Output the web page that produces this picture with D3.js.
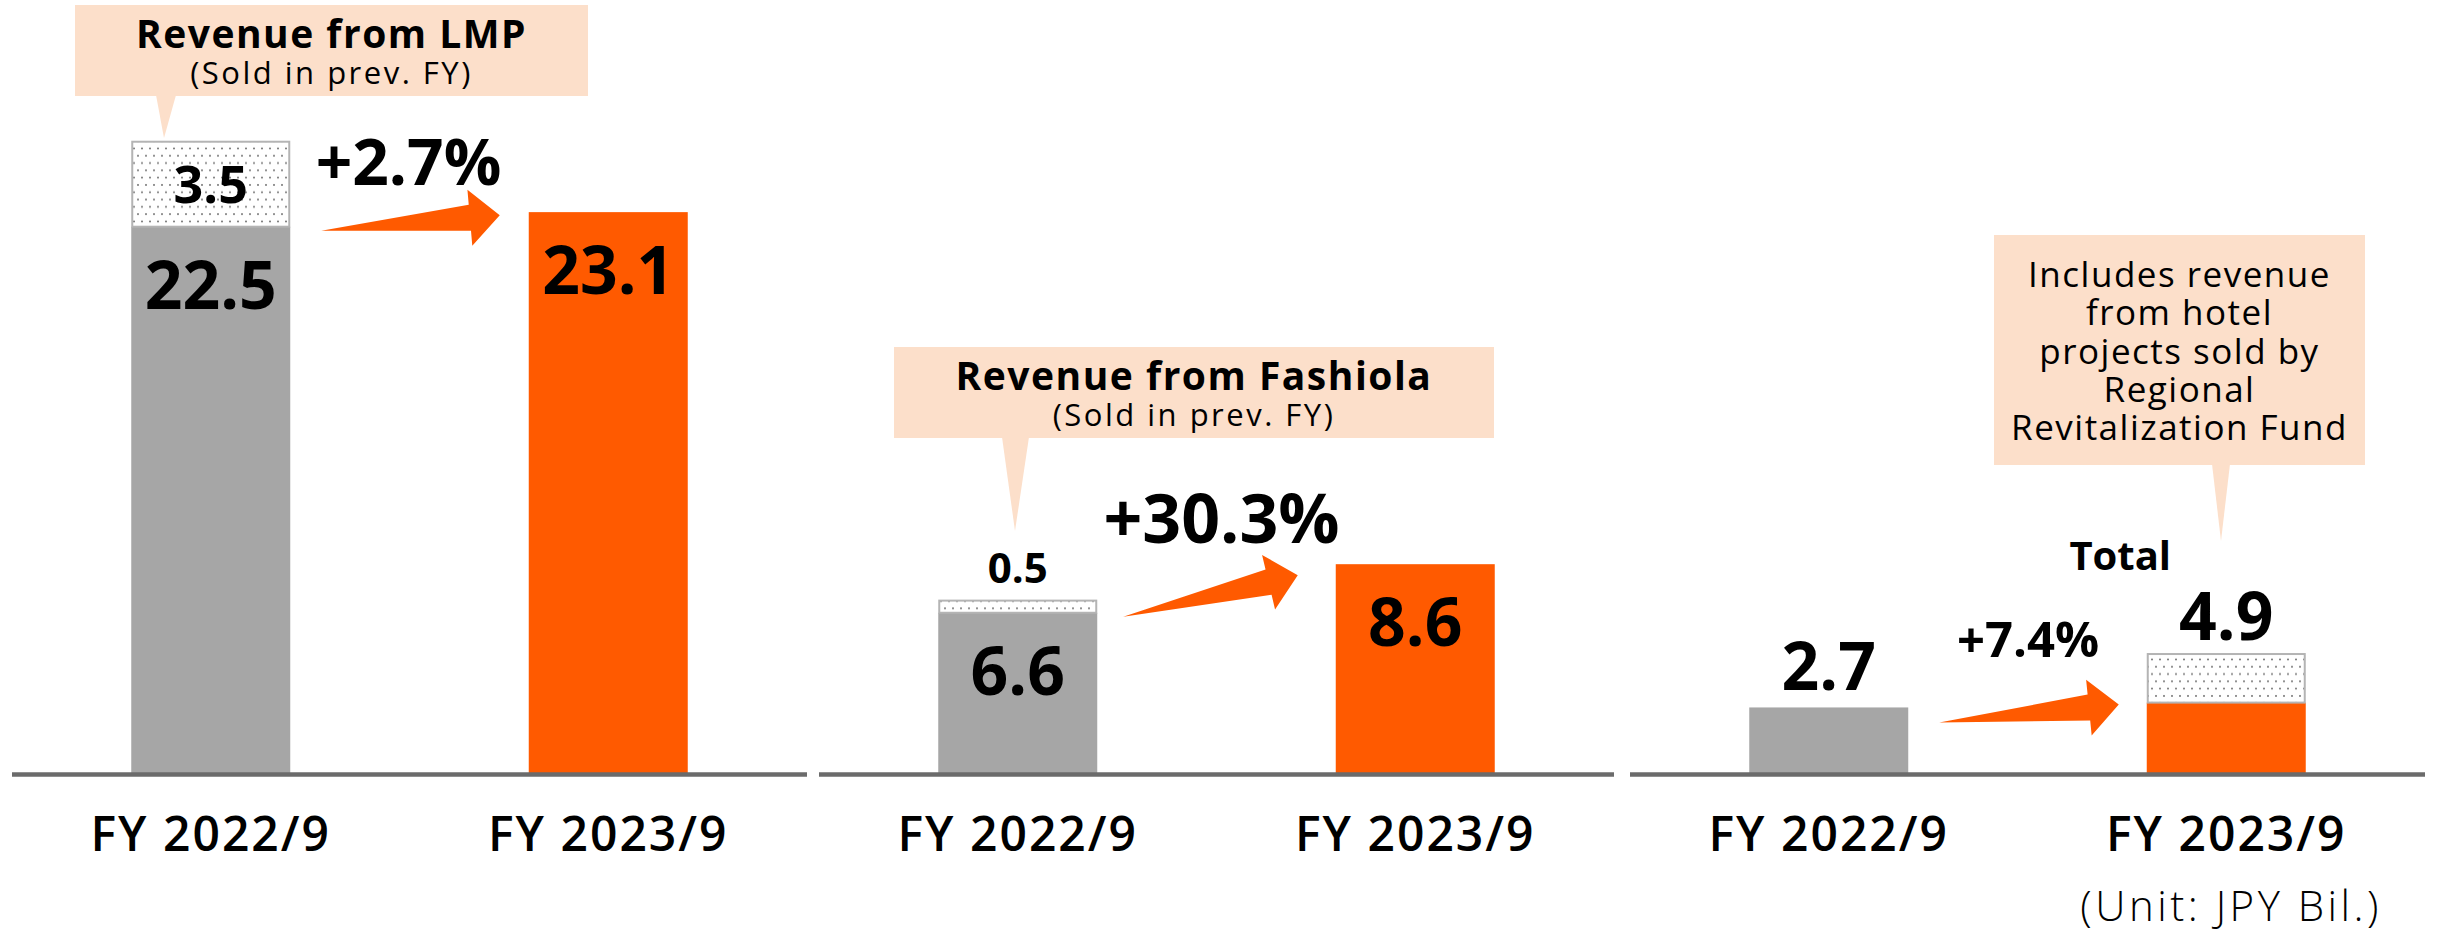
<!DOCTYPE html>
<html>
<head>
<meta charset="utf-8">
<script src="https://cdn.jsdelivr.net/npm/d3@7"></script>
<style>
  html, body { margin: 0; padding: 0; background: #fff; }
  svg { display: block; font-family: "Open Sans", "Noto Sans", sans-serif; }
</style>
</head>
<body>
<svg id="chart" width="2443" height="935"></svg>
<script>
// Data
// ----
const categories = ["FY 2022/9", "FY 2023/9"];
const panelNames = ["LMP", "Fashiola", "Hotel"];
const baseValues = [[22.5, 23.1], [6.6, 8.6], [2.7, 2.9]];
const extraValues = [[3.5, 0], [0.5, 0], [0, 2.0]];
const totalLabels = [null, null, ["2.7", "4.9"]];
const growthLabels = ["+2.7%", "+30.3%", "+7.4%"];
const calloutTitles = ["Revenue from LMP", "Revenue from Fashiola", null];
const calloutSubs = ["(Sold in prev. FY)", "(Sold in prev. FY)", null];
const hotelNote = ["Includes revenue", "from hotel", "projects sold by", "Regional", "Revitalization Fund"];
const unitLabel = "(Unit: JPY Bil.)";

// Layout
// ------
const GREY = "#a6a6a6", ORANGE = "#ff5a00", PEACH = "#fcdfca", AXIS = "#6b6b6b";
const panelX = [12, 819, 1630];
const panelW = 795;

// arrow: tail/tip vertical offsets from bar tops, gaps from bars, label offsets
const arrowCfg = [
  { tailDy: 4, tipDy: 3, gapL: 31, gapR: 29, lblDx: -2, lblDy: -30, size: 64 },
  { tailDy: 4, tipDy: 11, gapL: 26, gapR: 38, lblDx: 11, lblDy: -32, size: 68 },
  { tailDy: 15, tipDy: 2, gapL: 31, gapR: 28, lblDx: -1, lblDy: -48, size: 49 }
];

const svg = d3.select("#chart");

// shared value scale, same px/unit in all panels
const y = d3.scaleLinear().domain([0, 30]).range([773, 773 - 30 * 24.28]);

// dotted fill for "sold in prev. FY" / fund parts
const defs = svg.append("defs");
const pat = defs.append("pattern")
  .attr("id", "dots").attr("patternUnits", "userSpaceOnUse")
  .attr("width", 8).attr("height", 14.6);
pat.append("rect").attr("width", 8).attr("height", 14.6).attr("fill", "#fff");
pat.append("circle").attr("cx", 2).attr("cy", 2.5).attr("r", 1).attr("fill", "#6f6f6f");
pat.append("circle").attr("cx", 6).attr("cy", 9.8).attr("r", 1).attr("fill", "#6f6f6f");

function arrowPath(T, P, headLen, shaftHalf, headHalf) {
  const dx = P[0] - T[0], dy = P[1] - T[1];
  const len = Math.hypot(dx, dy);
  const u = [dx / len, dy / len], n = [-u[1], u[0]];
  const B = [P[0] - u[0] * headLen, P[1] - u[1] * headLen];
  const pts = [
    T,
    [B[0] + n[0] * shaftHalf, B[1] + n[1] * shaftHalf],
    [B[0] + n[0] * headHalf, B[1] + n[1] * headHalf],
    P,
    [B[0] - n[0] * headHalf, B[1] - n[1] * headHalf],
    [B[0] - n[0] * shaftHalf, B[1] - n[1] * shaftHalf]
  ];
  return "M" + pts.map(p => p.join(",")).join("L") + "Z";
}

panelNames.forEach((name, pi) => {
  const g = svg.append("g").attr("transform", `translate(${panelX[pi]},0)`);
  const x = d3.scaleBand().domain(categories).range([0, panelW])
    .paddingInner(0.6).paddingOuter(0.3);
  const bw = x.bandwidth();
  const rows = categories.map((c, i) => ({
    cat: c, base: baseValues[pi][i], extra: extraValues[pi][i], i
  }));

  // base bars
  g.selectAll("rect.base").data(rows).join("rect")
    .attr("class", "base")
    .attr("x", d => x(d.cat)).attr("width", bw)
    .attr("y", d => y(d.base)).attr("height", d => y(0) - y(d.base))
    .attr("fill", d => d.i === 0 ? GREY : ORANGE);

  // stacked dotted parts
  g.selectAll("rect.extra").data(rows.filter(d => d.extra > 0)).join("rect")
    .attr("class", "extra")
    .attr("x", d => x(d.cat) + 1).attr("width", bw - 2)
    .attr("y", d => y(d.base + d.extra)).attr("height", d => y(d.base) - y(d.base + d.extra))
    .attr("fill", "url(#dots)").attr("stroke", "#b4b4b4").attr("stroke-width", 2);

  // value labels
  if (!totalLabels[pi]) {
    g.selectAll("text.val").data(rows).join("text")
      .attr("class", "val")
      .attr("x", d => x(d.cat) + bw / 2).attr("y", d => y(d.base) + 82)
      .attr("text-anchor", "middle").attr("font-size", 66).attr("font-weight", 700)
      .attr("fill", "#000").text(d => d3.format(".1f")(d.base));
    g.selectAll("text.extra").data(rows.filter(d => d.extra > 0)).join("text")
      .attr("class", "extra")
      .attr("x", d => x(d.cat) + bw / 2)
      .attr("y", d => pi === 0 ? (y(d.base) + y(d.base + d.extra)) / 2 + 19 : y(d.base + d.extra) - 18)
      .attr("text-anchor", "middle").attr("font-size", pi === 0 ? 52 : 42).attr("font-weight", 700)
      .attr("fill", "#000").text(d => d3.format(".1f")(d.extra));
  } else {
    g.selectAll("text.tot").data(rows).join("text")
      .attr("class", "tot")
      .attr("x", d => x(d.cat) + bw / 2).attr("y", d => y(d.base + d.extra) - (d.i === 0 ? 17 : 14))
      .attr("text-anchor", "middle").attr("font-size", 66).attr("font-weight", 700)
      .attr("fill", "#000").text(d => totalLabels[pi][d.i]);
    g.append("text")
      .attr("x", x(categories[1]) + bw / 2 - 106).attr("y", y(4.9) - 84)
      .attr("text-anchor", "middle").attr("font-size", 40).attr("font-weight", 700)
      .text("Total");
  }

  // growth arrow
  const a = arrowCfg[pi];
  const T = [x(categories[0]) + bw + a.gapL, y(rows[0].base) + a.tailDy];
  const P = [x(categories[1]) - a.gapR, y(rows[1].base) + a.tipDy];
  g.append("path").attr("d", arrowPath(T, P, 30, 13, 28)).attr("fill", ORANGE);
  g.append("text")
    .attr("x", (T[0] + P[0]) / 2 + a.lblDx).attr("y", P[1] + a.lblDy)
    .attr("text-anchor", "middle").attr("font-size", a.size).attr("font-weight", 700)
    .text(growthLabels[pi]);

  // x axis
  const ax = g.append("g").attr("transform", `translate(0,${y(0)})`)
    .call(d3.axisBottom(x).tickSize(0).tickSizeOuter(0));
  ax.select(".domain").attr("stroke", AXIS).attr("stroke-width", 4.5)
    .attr("d", `M0,1.5H${panelW}`);
  ax.selectAll(".tick text")
    .attr("y", 78).attr("dy", null)
    .attr("font-family", "'Open Sans', sans-serif")
    .attr("font-size", 48).attr("font-weight", 600)
    .attr("letter-spacing", 2).attr("fill", "#000");
});

// callouts
const callouts = [
  { box: [75, 5, 588, 96], tail: [156, 176, 164, 138] },
  { box: [894, 347, 1494, 438], tail: [1002, 1029, 1015, 531] },
  { box: [1994, 235, 2365, 465], tail: [2212, 2230, 2221, 541] }
];
callouts.forEach((c, i) => {
  const [x0, y0, x1, y1] = c.box;
  const [t0, t1, tx, ty] = c.tail;
  const cg = svg.append("g");
  cg.append("path")
    .attr("d", `M${t0},${y1 - 1}L${t1},${y1 - 1}L${tx},${ty}Z`).attr("fill", PEACH);
  cg.append("rect").attr("x", x0).attr("y", y0)
    .attr("width", x1 - x0).attr("height", y1 - y0).attr("fill", PEACH);
  const cx = (x0 + x1) / 2;
  if (calloutTitles[i]) {
    cg.append("text").attr("x", cx).attr("y", y0 + 43)
      .attr("text-anchor", "middle").attr("font-size", 39).attr("font-weight", 700)
      .attr("letter-spacing", 1.5)
      .text(calloutTitles[i]);
    cg.append("text").attr("x", cx).attr("y", y0 + 79)
      .attr("text-anchor", "middle").attr("font-size", 31).attr("font-weight", 400)
      .attr("letter-spacing", 2.5)
      .text(calloutSubs[i]);
  } else {
    const note = cg.append("text")
      .attr("text-anchor", "middle").attr("font-size", 35).attr("font-weight", 400)
      .attr("letter-spacing", 1.5);
    note.selectAll("tspan").data(hotelNote).join("tspan")
      .attr("x", cx).attr("y", (d, k) => y0 + 52 + k * 38.3)
      .text(d => d);
  }
});

// unit
svg.append("text").attr("x", 2382).attr("y", 921)
  .attr("text-anchor", "end").attr("font-size", 42).attr("font-weight", 300)
  .attr("letter-spacing", 3.5)
  .text(unitLabel);
</script>
</body>
</html>
